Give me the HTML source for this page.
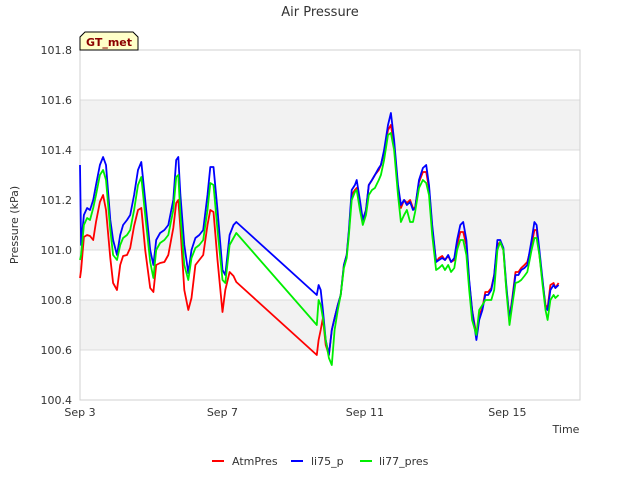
<!DOCTYPE html>
<html><head><meta charset="utf-8"><style>
body{margin:0;background:#fff;font-family:"DejaVu Sans","Liberation Sans",sans-serif;}
svg text{font-family:"DejaVu Sans","Liberation Sans",sans-serif;}
</style></head><body>
<svg id="chart" width="640" height="480" xmlns="http://www.w3.org/2000/svg">
<rect width="640" height="480" fill="#fff"/>
<text x="320" y="16" text-anchor="middle" font-size="13" fill="#333">Air Pressure</text>
<g id="plot"></g>
<text transform="translate(18,225) rotate(-90)" text-anchor="middle" font-size="11" fill="#333">Pressure (kPa)</text>
<text x="566" y="433" text-anchor="middle" font-size="11" fill="#333">Time</text>
<g>
<path d="M80,50 L80,37 L85,32 L133,32 L138,37 L138,50 Z" fill="#ffffc8" stroke="#000" stroke-width="1"/>
<text x="109" y="46" text-anchor="middle" font-size="11" font-weight="bold" fill="#8b0000">GT_met</text>
</g>
<g>
<g><line x1="212" y1="461" x2="224" y2="461" stroke="#ff0000" stroke-width="2"/><text x="232" y="465" font-size="11" fill="#333">AtmPres</text></g>
<g><line x1="291" y1="461" x2="303" y2="461" stroke="#0000ff" stroke-width="2"/><text x="311" y="465" font-size="11" fill="#333">li75_p</text></g>
<g><line x1="360" y1="461" x2="372" y2="461" stroke="#00ee00" stroke-width="2"/><text x="379" y="465" font-size="11" fill="#333">li77_pres</text></g>
</g>
</svg>
<script>
// days since Sep 3
const times = [0.00,0.03,0.11,0.20,0.28,0.37,0.45,0.56,0.65,0.73,0.85,0.93,1.04,1.13,1.21,1.32,1.41,1.52,1.63,1.72,1.83,1.97,2.06,2.14,2.25,2.37,2.48,2.62,2.70,2.76,2.82,2.93,3.04,3.13,3.24,3.35,3.46,3.58,3.66,3.75,3.86,4.00,4.08,4.20,4.31,4.39,
6.65,
6.70,6.76,6.82,6.90,6.99,7.07,7.15,7.24,7.32,7.41,7.49,7.55,7.63,7.72,7.77,7.86,7.94,8.03,8.11,8.20,8.28,8.39,8.45,8.54,8.65,8.73,8.82,8.93,9.01,9.10,9.18,9.27,9.35,9.41,9.52,9.63,9.72,9.80,9.89,10.00,10.08,10.17,10.25,10.34,10.42,10.51,10.59,10.68,10.76,10.85,10.93,11.01,11.13,11.21,11.30,11.38,11.46,11.55,11.63,11.72,11.80,11.89,11.97,12.06,12.14,12.23,12.31,12.39,12.48,12.56,12.68,12.76,12.82,12.90,12.99,13.07,13.13,13.21,13.30,13.35,13.44];
const atmPres = [100.888,100.92,101.052,101.06,101.056,101.04,101.112,101.192,101.22,101.16,100.968,100.868,100.84,100.94,100.976,100.98,101.008,101.096,101.16,101.168,101.00,100.848,100.832,100.94,100.948,100.952,100.98,101.088,101.188,101.20,101.088,100.84,100.76,100.808,100.94,100.96,100.98,101.10,101.16,101.152,100.96,100.752,100.84,100.912,100.896,100.872,
100.58,
100.64,100.68,100.728,100.62,100.58,100.68,100.728,100.78,100.82,100.94,100.98,101.072,101.22,101.24,101.248,101.18,101.12,101.16,101.26,101.28,101.30,101.32,101.34,101.392,101.48,101.50,101.42,101.248,101.168,101.20,101.188,101.20,101.168,101.168,101.272,101.312,101.312,101.248,101.088,100.952,100.968,100.976,100.96,100.976,100.952,100.96,101.02,101.072,101.072,101.02,100.872,100.76,100.66,100.74,100.768,100.832,100.832,100.848,100.90,101.02,101.032,101.00,100.848,100.728,100.808,100.912,100.912,100.928,100.94,100.952,101.02,101.08,101.08,100.98,100.872,100.78,100.768,100.86,100.868,100.848,100.868];
const li75p = [101.34,101.02,101.14,101.168,101.16,101.20,101.26,101.34,101.372,101.34,101.12,101.04,100.98,101.06,101.10,101.12,101.14,101.22,101.32,101.352,101.20,101.00,100.94,101.04,101.068,101.08,101.10,101.20,101.36,101.372,101.22,101.02,100.908,101.00,101.048,101.06,101.08,101.22,101.332,101.332,101.16,100.92,100.90,101.06,101.10,101.112,
100.82,
100.86,100.84,100.76,100.64,100.58,100.68,100.728,100.78,100.82,100.94,100.98,101.08,101.24,101.26,101.28,101.20,101.12,101.16,101.26,101.28,101.30,101.328,101.34,101.40,101.50,101.548,101.44,101.26,101.18,101.20,101.18,101.192,101.16,101.168,101.28,101.328,101.34,101.26,101.10,100.952,100.96,100.968,100.96,100.98,100.952,100.968,101.04,101.10,101.112,101.04,100.88,100.76,100.64,100.72,100.76,100.82,100.82,100.84,100.90,101.04,101.04,101.008,100.86,100.72,100.80,100.90,100.90,100.92,100.928,100.94,101.04,101.112,101.10,101.00,100.88,100.768,100.76,100.84,100.86,100.848,100.86];
const li77pres = [100.96,100.98,101.10,101.128,101.12,101.168,101.22,101.30,101.32,101.28,101.08,100.98,100.96,101.02,101.048,101.06,101.08,101.16,101.26,101.292,101.14,100.952,100.888,101.00,101.028,101.04,101.06,101.16,101.292,101.30,101.14,100.94,100.88,100.968,101.008,101.02,101.04,101.16,101.268,101.26,101.08,100.88,100.868,101.02,101.048,101.068,
100.70,
100.80,100.78,100.728,100.64,100.568,100.54,100.68,100.76,100.82,100.928,100.968,101.06,101.20,101.232,101.24,101.16,101.10,101.14,101.22,101.24,101.248,101.28,101.30,101.36,101.46,101.468,101.40,101.22,101.112,101.14,101.16,101.112,101.112,101.152,101.248,101.28,101.268,101.22,101.06,100.92,100.928,100.94,100.92,100.94,100.912,100.928,101.00,101.04,101.04,100.98,100.84,100.72,100.66,100.76,100.78,100.80,100.80,100.80,100.84,101.00,101.032,101.00,100.84,100.70,100.78,100.868,100.872,100.88,100.896,100.912,101.00,101.048,101.048,100.98,100.86,100.76,100.72,100.80,100.82,100.808,100.82];
const yTicks = [100.4,100.6,100.8,101.0,101.2,101.4,101.6,101.8];
const yTickLabels = ["100.4","100.6","100.8","101.0","101.2","101.4","101.6","101.8"];
const xTicks = [0,4,8,12];
const xTickLabels = ["Sep 3","Sep 7","Sep 11","Sep 15"];

const L=80,R=580,T=50,B=400;
const xMin=0,xMax=14.04,yMin=100.4,yMax=101.8;
const xs=d=>L+(d-xMin)/(xMax-xMin)*(R-L);
const ys=v=>B-(v-yMin)/(yMax-yMin)*(B-T);
const NS="http://www.w3.org/2000/svg";
const g=document.getElementById('plot');
function mk(tag,attrs){const e=document.createElementNS(NS,tag);for(const k in attrs)e.setAttribute(k,attrs[k]);g.appendChild(e);return e;}
for(let i=0;i<yTicks.length-1;i++){
  if(i%2===1){
    const r=mk('rect',{x:L,y:ys(yTicks[i+1]),width:R-L,height:ys(yTicks[i])-ys(yTicks[i+1]),fill:'#f2f2f2'});
    
    
  }
}
yTicks.forEach((v,i)=>{
  const l=mk('line',{x1:L,x2:R,y1:ys(v),y2:ys(v),stroke:'#dcdcdc','stroke-width':1});
  
  
  const t=mk('text',{x:L-8,y:ys(v)+4,'text-anchor':'end','font-size':11,fill:'#333'});
  t.textContent=yTickLabels[i];
  
  
});
xTicks.forEach((d,i)=>{
  const t=mk('text',{x:xs(d),y:416,'text-anchor':'middle','font-size':11,fill:'#333'});
  t.textContent=xTickLabels[i];
  
  
});
const fr=mk('rect',{x:L,y:T,width:R-L,height:B-T,fill:'none',stroke:'#d0d0d0','stroke-width':1});


function series(vals,color,name){
  const d=vals.map((v,i)=>(i?'L':'M')+xs(times[i]).toFixed(1)+','+ys(v).toFixed(1)).join(' ');
  const p=mk('path',{d:d,fill:'none',stroke:color,'stroke-width':1.8,'stroke-linejoin':'round'});
  
  
}
series(atmPres,'#ff0000','atmpres-line');
series(li75p,'#0000ff','li75-p-line');
series(li77pres,'#00ee00','li77-pres-line');
</script>
</body></html>
